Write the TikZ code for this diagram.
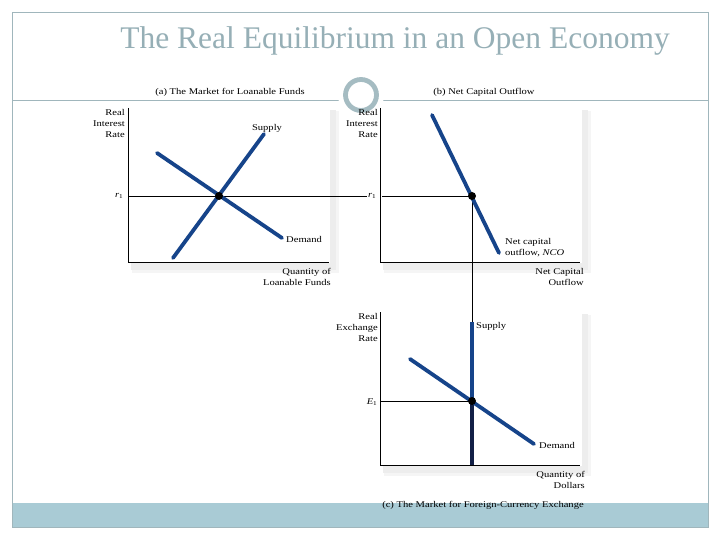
\documentclass[tikz,border=0pt]{standalone}
\usepackage{fontspec}
\setmainfont{Liberation Serif}
\newfontfamily\lblfont[FakeStretch=1.2]{Liberation Serif}
\definecolor{curveblue}{RGB}{22,68,138}
\definecolor{darknavy}{RGB}{18,32,70}
\definecolor{frameclr}{RGB}{160,182,188}
\definecolor{titleclr}{RGB}{150,175,182}
\definecolor{barclr}{RGB}{169,203,213}
\definecolor{ringclr}{RGB}{165,188,194}
\newcommand{\subone}[1]{\textit{#1}\raisebox{-0.35ex}{\fontsize{6}{6}\selectfont 1}}
\tikzset{
  curve/.style={line width=3.8pt, draw=curveblue, line cap=round},
  axisline/.style={line width=0.9pt, draw=black},
  guide/.style={line width=0.6pt, draw=black},
  lbl/.style={font=\lblfont\fontsize{8.8}{11}\selectfont, inner sep=0pt},
  ptitle/.style={font=\lblfont\fontsize{8.8}{11}\selectfont, inner sep=0pt},
  eqdot/.style={circle, fill=black, inner sep=0pt, minimum size=8pt},
}
\begin{document}
\begin{tikzpicture}[x=1pt,y=-1pt]
\useasboundingbox (0,0) rectangle (720,540);
% frame and bar
\fill[barclr] (12,503) rectangle (708,527);
\draw[frameclr, line width=0.8pt] (12,12) rectangle (708,527);
\draw[frameclr, line width=0.9pt] (12,100) -- (708,100);
\fill[white] (361,95) circle (23);
\draw[ringclr, line width=4.8pt] (361,95) circle (15.5);
% title
\node[font=\fontsize{31.5}{34}\selectfont, text=titleclr, inner sep=0pt] (title) at (395,41) {The Real Equilibrium in an Open Economy};
% shadows and plot areas
\foreach \a/\b/\c/\d in {128/108/330/263, 380/108/582/263, 380/312/582/466}{
  \fill[black!4] (\a+4,\b+3) rectangle (\c+9,\d+10);
  \fill[black!7] (\a+3,\b+2) rectangle (\c+6,\d+7);
  \fill[white] (\a,\b) rectangle (\c,\d);
}
% ---------- panel (a)
\node[ptitle] (ta) at (230,92) {(a) The Market for Loanable Funds};
\coordinate (a0) at (128,262);
\coordinate (ay) at (128,108);
\coordinate (ax) at (329,262);
\draw[axisline] (ay) -- (a0) -- (ax);
\node[lbl, align=right, anchor=east] (ayl) at (125,123) {Real\\Interest\\Rate};
\node[lbl, anchor=east] (ar1) at (123,196) {\subone{r}};
\node[lbl, align=right, anchor=east] (axl) at (331,277) {Quantity of\\Loanable Funds};
\coordinate (aS1) at (173,258);
\coordinate (aS2) at (264,134);
\coordinate (aD1) at (157,153);
\coordinate (aD2) at (282,238);
\node[lbl] (aSl) at (267,128) {Supply};
\node[lbl, anchor=west] (aDl) at (286,239) {Demand};
% ---------- panel (b)
\node[ptitle] (tb) at (484,92) {(b) Net Capital Outflow};
\coordinate (b0) at (380,262);
\coordinate (by) at (380,108);
\coordinate (bx) at (580,262);
\draw[axisline] (by) -- (b0) -- (bx);
\node[lbl, align=right, anchor=east] (byl) at (378,123) {Real\\Interest\\Rate};
\node[lbl, anchor=east] (br1) at (376,196) {\subone{r}};
\node[lbl, align=right, anchor=east] (bxl) at (584,277) {Net Capital\\Outflow};
\node[lbl, align=left, anchor=west] (bNl) at (505,248) {Net capital\\outflow, \textit{NCO}};
\coordinate (bN1) at (432,115);
\coordinate (bN2) at (499,253);
% ---------- panel (c)
\node[ptitle] (tc) at (483,505) {(c) The Market for Foreign-Currency Exchange};
\coordinate (c0) at (380,465);
\coordinate (cy) at (380,312);
\coordinate (cx) at (580,465);
\draw[axisline] (cy) -- (c0) -- (cx);
\node[lbl, align=right, anchor=east] (cyl) at (378,327) {Real\\Exchange\\Rate};
\node[lbl, anchor=east] (cE1) at (377,402) {\subone{E}};
\node[lbl, align=right, anchor=east] (cxl) at (585,480) {Quantity of\\Dollars};
\coordinate (cD1) at (410,359);
\coordinate (cD2) at (534,444);
\coordinate (cS1) at (472,322);
\coordinate (cS2) at (472,465);
\node[lbl, anchor=west] (cSl) at (476,326) {Supply};
\node[lbl, anchor=west] (cDl) at (539,445) {Demand};
% equilibrium points
\coordinate (eqa) at (219,196);
\coordinate (eqb) at (472,196);
\coordinate (eqc) at (472,401);
\coordinate (ga) at (128,196);
\coordinate (gb) at (367,196);
\coordinate (gc) at (382,196);
\coordinate (gd) at (380,401);
% guide lines
\draw[guide] (ga) -- (gb);
\draw[guide] (gc) -- (eqb);
\draw[guide] (eqb) -- (cS1);
\draw[guide] (gd) -- (eqc);
% curves
\draw[curve] (aS1) -- (aS2);
\draw[curve] (aD1) -- (aD2);
\draw[curve] (bN1) -- (bN2);
\draw[curve, line cap=butt] (cS1) -- (cS2);
\draw[line width=3.4pt, draw=darknavy] (eqc) -- (cS2);
\draw[curve] (cD1) -- (cD2);
% dots
\node[eqdot] (da) at (eqa) {};
\node[eqdot] (db) at (eqb) {};
\node[eqdot] (dc) at (eqc) {};
\end{tikzpicture}
\end{document}
